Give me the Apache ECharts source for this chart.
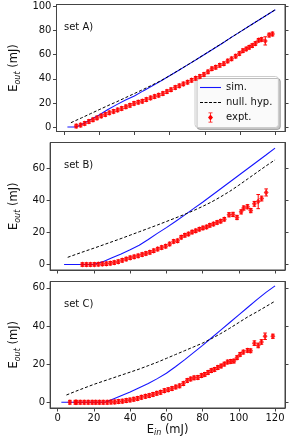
<!DOCTYPE html>
<html><head><meta charset="utf-8">
<script src="https://cdn.jsdelivr.net/npm/echarts@6/dist/echarts.min.js"></script>
<style>html,body{margin:0;padding:0;background:#fff}#c{width:291px;height:439px}</style>
</head><body><div id="c"></div><script>
// ---------- data ----------
const xTicks = [0, 20, 40, 60, 80, 100, 120];
const yTicksA = [0, 20, 40, 60, 80, 100];
const yTicksB = [0, 20, 40, 60];
const yTicksC = [0, 20, 40, 60];
const panelLabels = ['set A)', 'set B)', 'set C)'];

// set A
const simAx = [2,6,8,10,12.5,15,20,25,30,35,40,45,50,55,60,65,70,75,80,85,90,95,100,105,110,115,120];
const simAy = [0,0,0.6,2.0,4.0,6.0,10.0,14.5,18.6,22.4,25.8,30.0,34.0,38.2,42.6,47.0,51.4,55.8,60.4,65.0,69.6,74.4,79.0,83.6,88.2,92.8,97.4];
const nullAx = [4,10,15,20,25,30,35,40,45,50,55,60,65,70,75,80,85,90,95,100,105,110,115,120];
const nullAy = [3.6,7.6,11.0,14.4,17.8,21.0,24.4,27.8,31.2,34.8,38.4,42.6,47.0,51.4,55.9,60.5,65.1,69.7,74.4,79.0,83.6,88.2,92.8,97.4];
const expAx = [7.0,9.5,11.8,14.2,16.5,18.8,21.2,23.5,25.8,28.2,30.5,32.8,35.2,37.5,39.8,42.2,44.5,46.8,49.2,51.5,53.8,56.2,58.5,60.8,63.2,65.5,67.8,70.2,72.5,74.8,77.2,79.5,81.8,84.0,86.2,88.5,90.8,93.0,95.2,97.5,99.6,101.6,103.5,105.2,106.9,108.7,110.5,112.2,114.3,116.5,118.4];
const expAy = [0.8,1.6,3.0,4.6,6.0,7.6,9.2,10.4,11.8,13.0,14.2,15.4,16.8,18.0,19.6,20.6,21.4,22.8,24.2,25.3,26.4,27.8,29.4,31.0,32.8,34.2,35.8,37.2,38.8,40.4,42.0,43.6,45.8,48.4,49.6,51.2,52.6,54.8,56.6,58.8,61.0,63.4,64.8,66.2,67.6,69.3,72.0,72.7,71.5,76.3,77.2];
const expAe = [1.5,1.5,1.5,1.5,1.5,1.5,1.5,1.5,1.5,1.5,1.5,1.5,1.5,1.5,1.5,1.5,1.5,1.5,1.5,1.5,1.5,1.5,1.5,1.5,1.5,1.5,1.5,1.5,1.5,1.5,1.5,1.5,1.5,1.5,1.5,1.5,1.5,1.5,1.5,1.5,1.5,1.5,1.5,1.5,1.5,1.5,1.5,1.5,3.4,1.6,1.6];

// set B
const simBx = [3.5,19,21,25,30,35,40,45,50,55,60,65,70,75,80,85,90,95,100,105,110,115,120];
const simBy = [0,0,0.4,1.8,4.2,6.6,9.2,12.0,15.6,19.4,23.0,26.8,30.8,34.8,38.8,43.0,47.2,51.4,55.6,59.8,64.0,68.2,72.5];
const nullBx = [5.5,10,15,20,25,30,35,40,45,50,55,60,65,70,75,80,85,90,95,100,105,110,115,120];
const nullBy = [4.5,6.3,8.3,10.2,12.2,14.2,16.2,18.3,20.4,22.5,24.6,26.8,29.0,31.2,33.6,36.2,39.0,42.2,45.6,49.4,53.4,57.4,61.4,65.2];
const expBx = [13.6,15.8,18.0,20.2,22.4,24.6,26.8,29.0,31.2,33.4,35.6,37.8,40.0,42.2,44.4,46.6,48.7,50.9,53.0,55.2,57.4,59.6,61.8,64.0,66.2,68.2,70.2,72.2,74.2,76.2,78.2,80.2,82.2,84.0,86.0,88.0,90.0,92.0,94.6,96.8,99.0,101.3,102.7,104.8,106.6,108.6,110.7,112.6,115.1];
const expBy = [0.0,0.0,0.0,0.1,0.2,0.4,0.5,0.8,1.2,1.8,2.6,3.4,4.2,4.8,5.4,6.2,6.9,7.6,8.6,9.6,10.6,11.4,12.8,14.4,14.8,17.0,18.2,19.0,20.2,21.0,22.0,22.8,23.4,24.4,25.2,26.2,27.0,28.2,31.0,31.2,29.3,32.8,35.2,36.0,33.6,37.8,39.2,41.1,44.9];
const expBe = [1.1,1.1,1.1,1.1,1.1,1.1,1.1,1.1,1.1,1.1,1.1,1.1,1.1,1.1,1.1,1.1,1.1,1.1,1.1,1.1,1.1,1.1,1.1,1.1,1.1,1.1,1.1,1.1,1.1,1.1,1.1,1.1,1.1,1.1,1.1,1.1,1.1,1.1,1.3,1.3,1.3,1.3,1.3,1.3,1.3,1.5,4.4,1.5,2.2];

// set C
const simCx = [2,26,28,30,35,40,45,50,55,60,65,70,75,80,85,90,95,100,105,110,115,120];
const simCy = [0,0,0.6,1.4,3.4,5.4,7.6,9.8,12.4,15.2,18.6,22.2,26.0,29.8,33.8,37.8,41.8,45.8,49.8,53.8,57.6,61.0];
const nullCx = [4.8,10,15,20,25,30,35,40,45,50,55,60,65,70,75,80,85,90,95,100,105,110,115,120];
const nullCy = [3.8,5.8,7.6,9.4,11.0,12.6,14.2,15.8,17.4,19.2,21.0,23.0,25.0,27.0,29.0,31.0,33.4,36.0,38.8,41.8,44.8,47.4,50.2,53.0];
const expCx = [6.7,9.7,10.3,12.4,14.6,16.8,19.0,21.0,23.0,25.1,27.3,29.4,31.5,33.6,35.7,37.8,39.9,42.0,44.1,46.2,48.4,50.5,52.6,54.7,56.8,58.9,61.0,63.1,65.2,67.3,69.4,71.5,73.4,75.3,77.4,79.4,81.2,83.0,84.8,86.6,88.4,90.2,92.0,93.8,95.6,97.3,99.0,100.7,102.5,104.8,106.5,108.6,110.7,112.5,114.5,118.8];
const expCy = [0.0,0.0,0.0,0.0,0.0,0.0,0.0,0.0,0.0,0.0,0.0,0.1,0.2,0.4,0.6,0.9,1.2,1.6,2.0,2.6,3.1,3.5,4.1,4.7,5.2,6.1,6.6,7.2,8.0,8.6,9.8,11.4,12.2,12.8,13.0,14.0,14.6,15.6,16.6,17.2,18.2,19.0,20.0,21.1,21.4,21.6,23.4,25.1,26.3,27.2,27.0,31.0,29.8,31.6,34.6,34.6];
const expCe = [1.0,1.0,1.0,1.0,1.0,1.0,1.0,1.0,1.0,1.0,1.0,1.0,1.0,1.0,1.0,1.0,1.0,1.0,1.0,1.0,1.0,1.0,1.0,1.0,1.0,1.0,1.0,1.0,1.0,1.0,1.0,1.0,1.0,1.0,1.0,1.0,1.0,1.0,1.0,1.0,1.0,1.0,1.0,1.0,1.0,1.0,1.0,1.0,1.0,1.0,1.0,1.2,1.2,1.2,1.7,1.1];

// ---------- chart ----------
const FONT = 'DejaVu Sans';
const FRAME = '#444';
const TXT = '#111';
const BLUE = '#1515ff';
const zip2 = (a, b) => a.map((v, i) => [v, b[i]]);
const zip3 = (a, b, c) => a.map((v, i) => [v, b[i], c[i]]);

const panels = [
  {sim: zip2(simAx, simAy), nul: zip2(nullAx, nullAy), exp: zip3(expAx, expAy, expAe), yMin: -3.7, yMax: 101.7, yTicks: yTicksA},
  {sim: zip2(simBx, simBy), nul: zip2(nullBx, nullBy), exp: zip3(expBx, expBy, expBe), yMin: -3.4, yMax: 76.0, yTicks: yTicksB},
  {sim: zip2(simCx, simCy), nul: zip2(nullCx, nullCy), exp: zip3(expCx, expCy, expCe), yMin: -3.0, yMax: 63.3, yTicks: yTicksC}
];
const gridPos = [
  {top: 4.5, height: 127},
  {top: 142.5, height: 127.5},
  {top: 281.5, height: 126.5}
];

const nameRich = {
  m: {fontSize: 11.5, fontFamily: FONT, color: TXT, lineHeight: 15, verticalAlign: 'middle'},
  s: {fontSize: 8, fontFamily: FONT, fontStyle: 'italic', color: TXT, lineHeight: 9, verticalAlign: 'bottom'}
};

const grid = [], xAxis = [], yAxis = [], series = [], graphic = [];
panels.forEach((p, i) => {
  grid.push({left: 40, width: 245, top: gridPos[i].top, height: gridPos[i].height,
    show: true, borderColor: FRAME, borderWidth: 1, backgroundColor: 'transparent'});
  xAxis.push({
    type: 'value', gridIndex: i, min: -4.2, max: 125.5,
    axisLine: {show: true, onZero: false, lineStyle: {color: FRAME, width: 1}},
    axisTick: {show: true, length: 3.5, customValues: xTicks, lineStyle: {color: FRAME, width: 1}},
    axisLabel: {show: i === 2, customValues: xTicks, fontSize: 10, fontFamily: FONT, color: TXT, margin: 5},
    splitLine: {show: false},
    name: i === 2 ? '{m|E}{s|in}{m| (mJ)}' : '',
    nameLocation: 'middle', nameGap: 13,
    nameTextStyle: {rich: nameRich}
  });
  yAxis.push({
    type: 'value', gridIndex: i, position: 'left', min: p.yMin, max: p.yMax,
    axisLine: {show: true, onZero: false, lineStyle: {color: FRAME, width: 1}},
    axisTick: {show: true, length: 3.5, customValues: p.yTicks, lineStyle: {color: FRAME, width: 1}},
    axisLabel: {show: true, customValues: p.yTicks, fontSize: 10, fontFamily: FONT, color: TXT, margin: 5},
    splitLine: {show: false},
    name: '{m|E}{s|out}{m| (mJ)}', nameLocation: 'middle', nameRotate: 90, nameGap: 27,
    nameTextStyle: {rich: nameRich}
  });
  yAxis.push({
    type: 'value', gridIndex: i, position: 'right', min: p.yMin, max: p.yMax,
    axisLine: {show: true, onZero: false, lineStyle: {color: FRAME, width: 1}},
    axisTick: {show: true, length: 3.5, customValues: p.yTicks, lineStyle: {color: FRAME, width: 1}},
    axisLabel: {show: false},
    splitLine: {show: false}
  });
  series.push({
    type: 'line', name: 'sim.', xAxisIndex: i, yAxisIndex: 2 * i, data: p.sim,
    symbol: 'none', showSymbol: false, lineStyle: {color: BLUE, width: 1.1}, itemStyle: {color: BLUE}, z: 3
  });
  series.push({
    type: 'line', name: 'null. hyp.', xAxisIndex: i, yAxisIndex: 2 * i, data: p.nul,
    symbol: 'none', showSymbol: false, lineStyle: {color: '#000', width: 1, type: [3, 2]}, itemStyle: {color: '#000'}, z: 4
  });
  series.push({
    type: 'custom', name: 'expt.', xAxisIndex: i, yAxisIndex: 2 * i, data: p.exp,
    encode: {x: 0, y: 1}, z: 5, clip: true,
    itemStyle: {color: '#ff0000'},
    renderItem: function (params, api) {
      const x = api.value(0), y = api.value(1), e = api.value(2);
      const t = api.coord([x, y + e]), b = api.coord([x, y - e]);
      const cw = 1.8;
      const st = {stroke: '#ff0000', lineWidth: 1};
      return {type: 'group', children: [
        {type: 'line', shape: {x1: t[0], y1: t[1], x2: b[0], y2: b[1]}, style: st},
        {type: 'line', shape: {x1: t[0] - cw, y1: t[1], x2: t[0] + cw, y2: t[1]}, style: st},
        {type: 'line', shape: {x1: b[0] - cw, y1: b[1], x2: b[0] + cw, y2: b[1]}, style: st}
      ]};
    }
  });
  series.push({
    type: 'scatter', name: 'expt.', xAxisIndex: i, yAxisIndex: 2 * i, data: p.exp.map(d => [d[0], d[1]]),
    symbol: 'diamond', symbolSize: [5, 6], itemStyle: {color: '#ff0000'}, z: 6
  });
  graphic.push({type: 'text', left: 64, top: gridPos[i].top + 17.5,
    style: {text: panelLabels[i], font: '10px "DejaVu Sans"', fill: TXT}});
});

const chart = echarts.init(document.getElementById('c'), null, {renderer: 'canvas'});
chart.setOption({
  animation: false,
  backgroundColor: '#fff',
  grid, xAxis, yAxis, series, graphic,
  legend: {
    left: 195, top: 76.5, orient: 'vertical',
    itemWidth: 21, itemHeight: 10, itemGap: 5,
    padding: [6, 6, 5, 5],
    backgroundColor: 'rgba(255,255,255,0.9)', borderColor: '#ccc', borderWidth: 1, borderRadius: 3,
    shadowColor: 'rgba(0,0,0,0.25)', shadowOffsetX: 2, shadowOffsetY: 2, shadowBlur: 0,
    textStyle: {fontFamily: FONT, fontSize: 10, color: TXT},
    data: [
      {name: 'sim.', icon: 'path://M0,0h21v1.1h-21z', itemStyle: {color: BLUE}},
      {name: 'null. hyp.', icon: 'path://M0,0h3v1h-3z M4.5,0h3v1h-3z M9,0h3v1h-3z M13.5,0h3v1h-3z M18,0h3v1h-3z', itemStyle: {color: '#000'}},
      {name: 'expt.', icon: 'path://M2.6,0h0.8v10h-0.8z M1,0h4v0.8h-4z M1,9.2h4v0.8h-4z M3,2L5.5,5L3,8L0.5,5Z', itemStyle: {color: '#ff0000'}}
    ]
  }
});
</script></body></html>
